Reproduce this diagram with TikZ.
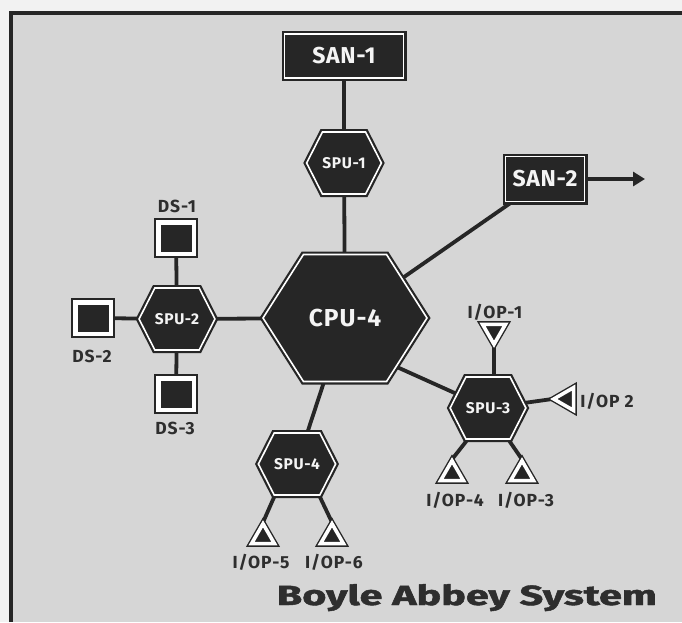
\documentclass[tikz,border=0pt]{standalone}
\usepackage{fontspec}
\setmainfont{Fira Sans}
\usetikzlibrary{shapes.symbols,shapes.geometric,arrows.meta,calc}
\definecolor{ink}{HTML}{262626}
\definecolor{paper}{HTML}{D6D6D6}
\definecolor{margin}{HTML}{F2F2F2}
\definecolor{lbl}{HTML}{2E2E2E}
\definecolor{wtxt}{HTML}{F4F4F4}
\pgfdeclarelayer{bg}
\pgfsetlayers{bg,main}
\tikzset{
  dbl/.style={draw=ink, fill=ink, line width=2.2pt, double=white, double distance=1.6pt},
  sanbox/.style={dbl, rectangle, text=wtxt, font=\bfseries\fontsize{23}{23}\selectfont\addfontfeatures{LetterSpace=3}, inner sep=0pt},
  hexbig/.style={dbl, signal, signal to=east and west, signal pointer angle=115, text=wtxt,
    font=\bfseries\fontsize{24.5}{24.5}\selectfont\addfontfeatures{LetterSpace=4}, inner sep=0pt, minimum width=164pt, minimum height=127pt},
  hexsmall/.style={dbl, signal, signal to=east and west, signal pointer angle=126, text=wtxt,
    font=\bfseries\fontsize{15.5}{15.5}\selectfont\addfontfeatures{LetterSpace=4}, inner sep=0pt, minimum width=74pt, minimum height=62pt},
  dsbox/.style={draw=ink, fill=ink, line width=2pt, double=white, double distance=4.5pt, rectangle,
    minimum width=35.5pt, minimum height=31.5pt, inner sep=0pt},
  trib/.style={draw=ink, fill=ink, line width=1.4pt, double=white, double distance=3.6pt,
    regular polygon, regular polygon sides=3, minimum size=26.5pt, inner sep=0pt},
  lab/.style={text=lbl, font=\bfseries\fontsize{17.5}{17.5}\selectfont\addfontfeatures{LetterSpace=5}, inner sep=0pt, anchor=base},
  wire/.style={draw=ink, line width=3.8pt},
}
\begin{document}
\begin{tikzpicture}[x=1pt,y=-1pt]
\useasboundingbox (0,0) rectangle (682,622);
% nodes
\node[sanbox, minimum width=119pt, minimum height=44pt] (san1) at (344,56) {SAN-1};
\node[sanbox, minimum width=79pt, minimum height=45pt] (san2) at (545,179) {SAN-2};
\node[hexsmall] (spu1) at (344,163) {SPU-1};
\node[hexbig] (cpu) at (345,318) {CPU-4};
\node[hexsmall] (spu2) at (177,319) {SPU-2};
\node[hexsmall] (spu3) at (488,408) {SPU-3};
\node[hexsmall] (spu4) at (297,464) {SPU-4};
\node[dsbox] (ds1) at (176,238) {};
\node[dsbox] (ds2) at (93,318) {};
\node[dsbox] (ds3) at (176,394) {};
\node[trib, shape border rotate=180] (iop1) at (494,331) {};
\node[trib, shape border rotate=90] (iop2) at (567,399) {};
\node[trib] (iop4) at (452,474) {};
\node[trib] (iop3) at (522,474) {};
\node[trib] (iop5) at (263,537) {};
\node[trib] (iop6) at (332,537) {};
% labels
\node[lab] (l-ds1) at (177,212) {DS-1};
\node[lab] (l-ds2) at (92,362) {DS-2};
\node[lab] (l-ds3) at (175,434) {DS-3};
\node[lab] (l-iop1) at (495,318) {I/OP-1};
\node[lab] (l-iop2) at (607,407) {I/OP 2};
\node[lab] (l-iop4) at (455,506) {I/OP-4};
\node[lab] (l-iop3) at (526,506) {I/OP-3};
\node[lab] (l-iop5) at (261,568) {I/OP-5};
\node[lab] (l-iop6) at (334,568) {I/OP-6};
\node[anchor=base east, text=lbl, inner sep=0pt, font=\bfseries\fontsize{29}{29}\selectfont\addfontfeatures{FakeBold=1.5}] (title) at (657,605)
  {\resizebox{380pt}{21pt}{Boyle Abbey System}};
\coordinate (out) at (645,179);
\coordinate (cpu3) at ($(cpu.center)+(43,45)$);
\coordinate (s3l) at ($(spu3.center)+(-20,31)$);
\coordinate (s3r) at ($(spu3.center)+(20,31)$);
\coordinate (s4l) at ($(spu4.center)+(-22,31)$);
\coordinate (s4r) at ($(spu4.center)+(22,31)$);
\begin{pgfonlayer}{bg}
  \fill[margin] (0,0) rectangle (682,622);
  \fill[paper] (10,12) rectangle (682,622);
  \draw[ink, line width=4pt] (10.5,622) -- (10.5,12.5) -- (682,12.5);
  \draw[wire] (san1) -- (spu1);
  \draw[wire] (spu1) -- (cpu);
  \draw[wire] (cpu) -- (san2);
  \draw[wire, -{Triangle[length=12pt,width=14pt]}] (san2.center) -- (out);
  \draw[wire] (spu2) -- (cpu);
  \draw[wire] (ds1) -- (spu2);
  \draw[wire] (ds2) -- (spu2);
  \draw[wire] (ds3) -- (spu2);
  \draw[wire] (cpu3) -- (spu3.center);
  \draw[wire] (cpu) -- (spu4);
  \draw[wire] (iop1.corner 1) -- (iop1.corner 1 |- spu3.center);
  \draw[wire] (spu3.center) -- (iop2.corner 1);
  \draw[wire] (s3l) -- (iop4.corner 1);
  \draw[wire] (s3r) -- (iop3.corner 1);
  \draw[wire] (s4l) -- (iop5.corner 1);
  \draw[wire] (s4r) -- (iop6.corner 1);
\end{pgfonlayer}
\end{tikzpicture}
\end{document}
